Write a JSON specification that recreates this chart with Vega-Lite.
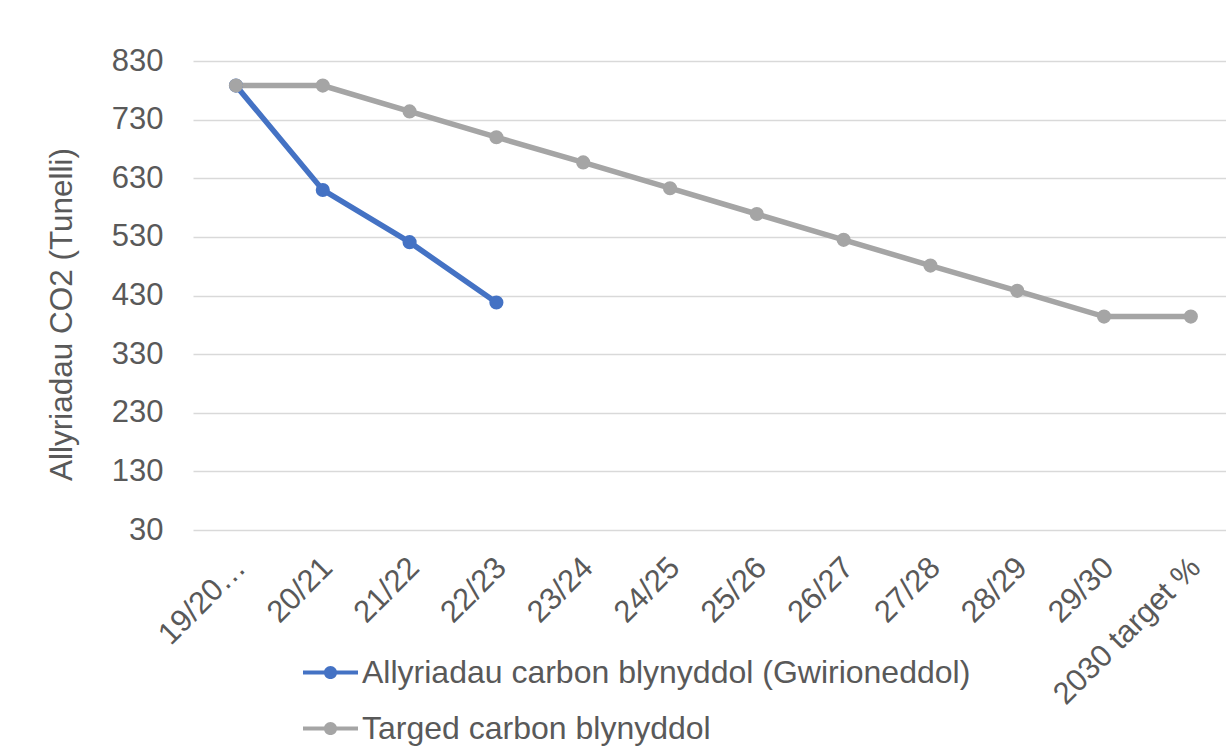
{
  "$schema": "https://vega.github.io/schema/vega-lite/v6.json",
  "autosize": "none",
  "width": 1033,
  "height": 469,
  "padding": {"left": 193, "top": 61, "right": 0, "bottom": 219},
  "background": "white",
  "config": {
    "font": "Liberation Sans",
    "view": {"stroke": null},
    "axis": {"labelColor": "#595959", "titleColor": "#595959", "labelFont": "Liberation Sans", "titleFont": "Liberation Sans", "titleFontWeight": "normal"},
    "legend": {"labelColor": "#595959", "labelFont": "Liberation Sans"}
  },
  "data": {
    "values": [
      {"year": "19/20…", "series": "Allyriadau carbon blynyddol (Gwirioneddol)", "value": 788},
      {"year": "20/21", "series": "Allyriadau carbon blynyddol (Gwirioneddol)", "value": 610},
      {"year": "21/22", "series": "Allyriadau carbon blynyddol (Gwirioneddol)", "value": 521},
      {"year": "22/23", "series": "Allyriadau carbon blynyddol (Gwirioneddol)", "value": 418},
      {"year": "19/20…", "series": "Targed carbon blynyddol", "value": 788},
      {"year": "20/21", "series": "Targed carbon blynyddol", "value": 788},
      {"year": "21/22", "series": "Targed carbon blynyddol", "value": 744},
      {"year": "22/23", "series": "Targed carbon blynyddol", "value": 700},
      {"year": "23/24", "series": "Targed carbon blynyddol", "value": 657},
      {"year": "24/25", "series": "Targed carbon blynyddol", "value": 613},
      {"year": "25/26", "series": "Targed carbon blynyddol", "value": 569},
      {"year": "26/27", "series": "Targed carbon blynyddol", "value": 525},
      {"year": "27/28", "series": "Targed carbon blynyddol", "value": 481},
      {"year": "28/29", "series": "Targed carbon blynyddol", "value": 438},
      {"year": "29/30", "series": "Targed carbon blynyddol", "value": 394},
      {"year": "2030 target %", "series": "Targed carbon blynyddol", "value": 394}
    ]
  },
  "mark": {"type": "line", "strokeWidth": 5.5, "point": {"filled": true, "size": 200}},
  "encoding": {
    "x": {
      "field": "year", "type": "nominal", "sort": null,
      "scale": {"type": "point", "padding": 0.45, "align": 0.55},
      "axis": {"title": null, "labelAngle": -45, "labelAlign": "right", "labelBaseline": "top", "labelFontSize": 31, "labelPadding": 22, "labelOffset": -6, "ticks": false, "domain": false, "grid": false, "labelLimit": 400}
    },
    "y": {
      "field": "value", "type": "quantitative",
      "scale": {"domain": [30, 830], "nice": false, "zero": false},
      "axis": {"title": "Allyriadau CO2 (Tunelli)", "values": [30, 130, 230, 330, 430, 530, 630, 730, 830], "labelFontSize": 31, "titleFontSize": 31.5, "ticks": false, "domain": false, "labelPadding": 30, "gridColor": "#D9D9D9", "gridWidth": 1.3, "titleX": -122, "titleY": 253, "titleBaseline": "alphabetic", "titleAngle": -90, "titleAlign": "center"}
    },
    "color": {
      "field": "series", "type": "nominal",
      "scale": {"domain": ["Allyriadau carbon blynyddol (Gwirioneddol)", "Targed carbon blynyddol"], "range": ["#4472C4", "#A5A5A5"]},
      "legend": {
        "title": null, "orient": "none", "legendX": 110, "legendY": 584, "direction": "vertical",
        "labelFontSize": 32, "labelOffset": 4, "labelLimit": 800, "padding": 0, "rowPadding": 12,
        "symbolType": "M-1,-0.075H1V0.075H-1Z M0.24,0A0.24,0.24 0 1,1 -0.24,0A0.24,0.24 0 1,1 0.24,0Z",
        "symbolSize": 3025, "symbolStrokeWidth": 0,
        "encode": {"symbols": {"update": {"fill": {"scale": "color", "field": "value"}, "fillOpacity": {"value": 1}, "strokeWidth": {"value": 0}}}}
      }
    }
  }
}
